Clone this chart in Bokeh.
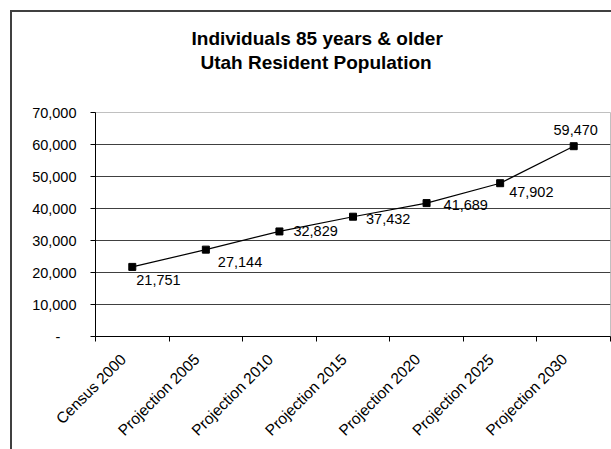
import math
from bokeh.plotting import figure
from bokeh.models import (ColumnDataSource, Range1d, FixedTicker, CustomJSTickFormatter,
                          Title)
from bokeh.core.properties import value
from bokeh.embed import file_html
from bokeh.resources import INLINE

# Population aged 85+ in Utah: census count and projections
categories = ["Census 2000", "Projection 2005", "Projection 2010", "Projection 2015",
              "Projection 2020", "Projection 2025", "Projection 2030"]
population = [21751, 27144, 32829, 37432, 41689, 47902, 59470]
y_ticks = [0, 10000, 20000, 30000, 40000, 50000, 60000, 70000]
title_lines = ["Individuals 85 years & older", "Utah Resident Population"]

# per-label nudges (pixels) for the value labels
label_dx = [4, 12, 14, 13, 17, 9, 2]
label_dy = [13, 12, 0, 2, 2, 9, -16]
label_align = ["left"] * 6 + ["center"]

FONT = "Liberation Sans"
NBSP = "\u00a0"

xs = [i + 0.5 for i in range(len(categories))]

p = figure(width=611, height=449, output_backend="svg", toolbar_location=None,
           title=None,
           x_range=Range1d(0, len(categories)), y_range=Range1d(0, 70000),
           min_border_left=95, min_border_right=1, min_border_top=112,
           min_border_bottom=113)
p.background_fill_color = "white"
p.border_fill_color = "white"
p.outline_line_color = "#c0c0c0"
p.outline_line_width = 1

# blank spacer panel between the plot area and the title
p.add_layout(Title(text=NBSP, standoff=17, text_font=FONT, text_font_style="bold",
                   text_font_size="19px"), "above")

# two-line bold title, each line centred over the chart area
for txt, off, stand in [(title_lines[1], 105, 0), (title_lines[0], 96, 0.5)]:
    p.add_layout(Title(text=txt, align="left", offset=off,
                       standoff=stand, text_font=FONT, text_font_style="bold",
                       text_font_size="19px", text_color="black"), "above")

# outer chart-area frame (left and top edges fall inside the page)
p.stylesheets = [""":host { position: relative; }
:host::after { content: ""; position: absolute; left: 10px; top: 10px;
  width: 700px; height: 600px; border: 2px solid #404040;
  pointer-events: none; box-sizing: border-box; }"""]

# x axis: ticks on category boundaries, labels at category centres
p.xaxis.ticker = FixedTicker(ticks=xs, minor_ticks=list(range(len(categories) + 1)))
p.xaxis.major_label_overrides = {x: c + NBSP * 3 for x, c in zip(xs, categories)}
p.xaxis.major_label_orientation = math.pi / 4
p.xaxis.major_tick_out = 0
p.xaxis.major_tick_in = 0
p.xaxis.minor_tick_out = 5
p.xaxis.minor_tick_in = 0
p.xaxis.minor_tick_line_color = "black"
p.xaxis.axis_line_color = "black"
p.xaxis.major_label_text_font = FONT
p.xaxis.major_label_text_font_size = "15.5px"
p.xaxis.major_label_text_color = "black"
p.xaxis.major_label_standoff = 6

# y axis
p.yaxis.ticker = FixedTicker(ticks=y_ticks, minor_ticks=[])
p.yaxis.formatter = CustomJSTickFormatter(code="""
    if (tick == 0) { return "-\u00a0\u00a0\u00a0\u00a0"; }
    return Math.round(tick).toLocaleString("en-US");
""")
p.yaxis.major_tick_out = 5
p.yaxis.major_tick_in = 0
p.yaxis.minor_tick_out = 0
p.yaxis.minor_tick_in = 0
p.yaxis.axis_line_color = "black"
p.yaxis.major_tick_line_color = "black"
p.yaxis.major_label_text_font = FONT
p.yaxis.major_label_text_font_size = "14.5px"
p.yaxis.major_label_text_color = "black"
p.yaxis.major_label_standoff = 14

p.xgrid.visible = False
p.ygrid.ticker = FixedTicker(ticks=y_ticks[1:-1], minor_ticks=[])
p.ygrid.grid_line_color = "#404040"
p.ygrid.grid_line_width = 1

src = ColumnDataSource(dict(
    x=xs, y=population,
    label=[f"{v:,}" for v in population],
    dx=label_dx, dy=label_dy, align=label_align,
))

p.line("x", "y", source=src, line_color="black", line_width=1.2)
p.scatter("x", "y", source=src, marker="square", size=7, fill_color="black",
          line_color="black")
p.text("x", "y", text="label", source=src, x_offset="dx", y_offset="dy",
       text_align="align", text_baseline="middle", text_font=value(FONT),
       text_font_size="14.5px", text_color="black")

open("out.html", "w").write(file_html(p, INLINE))
